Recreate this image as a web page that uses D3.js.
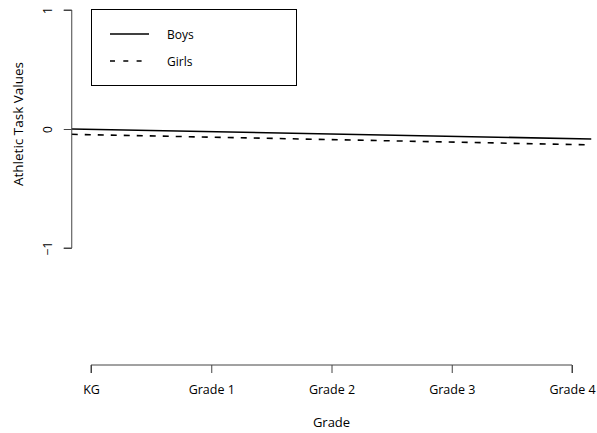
<!DOCTYPE html>
<html>
<head>
<meta charset="utf-8">
<script src="https://cdn.jsdelivr.net/npm/d3@7"></script>
<style>
  body { margin: 0; background: #fff; }
  text { font-family: "Open Sans", "Noto Sans", sans-serif; font-size: 12px; fill: #000; }
</style>
</head>
<body>
<div id="chart"></div>
<script>
// grade categories on the x axis
var grades = ["KG", "Grade 1", "Grade 2", "Grade 3", "Grade 4"];
// fitted lines (value = intercept + slope * grade index)
var groups = ["Boys", "Girls"];
var intercepts = [-0.003, -0.048];
var slopes = [-0.0195, -0.0206];
var dashes = [null, "6,7"];
var yTicks = [-1, 0, 1];

var svgWidth = 597, svgHeight = 433;

var svg = d3.select("#chart")
    .append("svg")
    .attr("width", svgWidth)
    .attr("height", svgHeight);

// scales: grade index -> px, value -> px
var xScale = d3.scaleLinear().domain([0, grades.length - 1]).range([91, 572]);
var yScale = d3.scaleLinear().domain([-1, 1]).range([248, 10]);

// plot region runs 4% past the data range (like R's default)
var xPad = 0.04 * (grades.length - 1);
var xExtent = [-xPad, grades.length - 1 + xPad];

// the fitted lines, clipped to the plot region
var line = d3.line()
    .x(d => xScale(d[0]))
    .y(d => yScale(d[1]));

groups.forEach(function(g, i) {
    var pts = xExtent.map(x => [x, intercepts[i] + slopes[i] * x]);
    svg.append("path")
        .attr("d", line(pts))
        .attr("fill", "none")
        .attr("stroke", "#000")
        .attr("stroke-width", 1.6)
        .attr("stroke-dasharray", dashes[i]);
});

// y axis
var leftAxis = d3.axisLeft(yScale)
    .tickValues(yTicks)
    .tickSize(8)
    .tickFormat(d => d === -1 ? "\u22121" : d);

var yAxisG = svg.append("g")
    .attr("transform", `translate(${xScale(xExtent[0])},0)`)
    .call(leftAxis);
yAxisG.select(".domain").attr("d", `M-8,${yScale(1)}H0V${yScale(-1)}H-8`);
yAxisG.selectAll("line, path").attr("stroke", "#444");
// tick labels sit rotated like R's las=0
yAxisG.selectAll("text")
    .attr("x", 0)
    .attr("y", 0)
    .attr("dy", null)
    .attr("text-anchor", "middle")
    .attr("dominant-baseline", "central")
    .attr("transform", "translate(-24,0) rotate(-90)")
    .style("font-size", "12px")
    .style("font-family", "'Open Sans', sans-serif");

// x axis
var bottomAxis = d3.axisBottom(xScale)
    .tickValues(d3.range(grades.length))
    .tickSize(8)
    .tickFormat(i => grades[i]);

var xAxisG = svg.append("g")
    .attr("transform", "translate(0,365)")
    .call(bottomAxis);
xAxisG.select(".domain").attr("d", `M${xScale(0)},8V0H${xScale(grades.length - 1)}V8`);
xAxisG.selectAll("line, path").attr("stroke", "#444");
xAxisG.selectAll("text")
    .attr("y", 25)
    .attr("dy", "0.35em")
    .style("font-size", "12.5px")
    .style("font-family", "'Open Sans', sans-serif");

// axis titles
svg.append("text")
    .attr("x", xScale(2))
    .attr("y", 422)
    .attr("text-anchor", "middle")
    .attr("dominant-baseline", "central")
    .style("font-size", "13px")
    .text("Grade");

svg.append("text")
    .attr("transform", "translate(18,124) rotate(-90)")
    .attr("text-anchor", "middle")
    .attr("dominant-baseline", "central")
    .style("font-size", "13.5px")
    .text("Athletic Task Values");

// legend
var legend = svg.append("g");
legend.append("rect")
    .attr("x", 91.5)
    .attr("y", 9.5)
    .attr("width", 205)
    .attr("height", 76)
    .attr("fill", "#fff")
    .attr("stroke", "#000");

var legendDash = [null, "5,8.3"];
groups.forEach(function(g, i) {
    var ly = 34 + i * 27;
    legend.append("line")
        .attr("x1", 110).attr("x2", 149)
        .attr("y1", ly).attr("y2", ly)
        .attr("stroke", "#000")
        .attr("stroke-width", 1.6)
        .attr("stroke-dasharray", legendDash[i]);
    legend.append("text")
        .attr("x", 167)
        .attr("y", ly)
        .attr("dominant-baseline", "central")
        .text(g);
});
</script>
</body>
</html>
